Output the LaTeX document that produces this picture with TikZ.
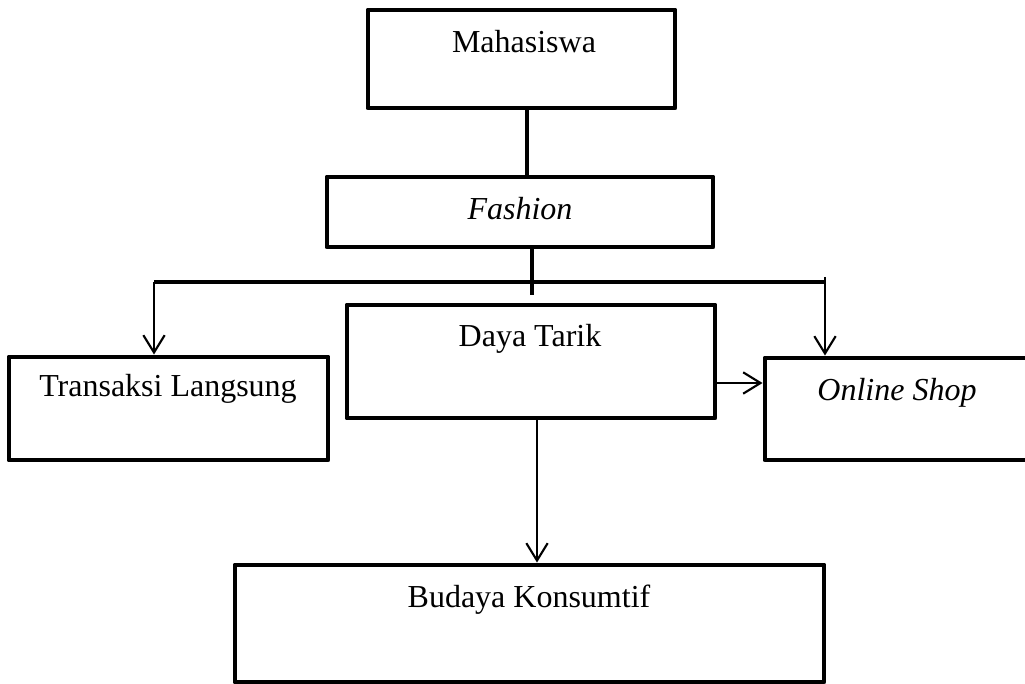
\documentclass[tikz,border=0pt]{standalone}
\usepackage{fontspec}
\setmainfont{Liberation Serif}
\usetikzlibrary{arrows.meta,fit,calc}

\tikzset{every picture/.style={line width=0.75pt}}
\tikzset{
  box/.style={draw, line width=3.7pt, inner sep=0pt, line join=round},
  lbl/.style={anchor=base, inner sep=0.75pt, font=\fontsize{24}{28}\selectfont},
  trunk/.style={line width=3.7pt},
  drop/.style={line width=1.6pt, -{Straight Barb[length=13pt,width=16pt,line width=1.6pt]}},
}

\begin{document}
\begin{tikzpicture}[x=0.75pt,y=0.75pt,yscale=-1,xscale=1]
\useasboundingbox (0,0) rectangle (1025,684);

%Boxes
\node[box, fit={(368,10) (675,108)}] (mhs) {};
\node[box, fit={(327,177) (713,247)}] (fashion) {};
\node[box, fit={(347,305) (715,418)}] (daya) {};
\node[box, fit={(9,357) (328,460)}] (transaksi) {};
\node[box, fit={(765,358) (1035,460)}] (online) {};
\node[box, fit={(235,565) (824,682)}] (budaya) {};

%Helper coordinates for the connectors
\coordinate (x-mhs) at (527,0);
\coordinate (x-fashion) at (532,295);
\coordinate (bar-l) at (154,282);
\coordinate (bar-r) at (825,282);
\coordinate (tick-r) at (825,277);
\coordinate (y-online) at (0,383);
\coordinate (x-budaya) at (537,0);

%Straight Lines
\draw[trunk] (mhs.south -| x-mhs) -- (fashion.north -| x-mhs);
\draw[trunk] (fashion.south -| x-fashion) -- (x-fashion);
\draw[trunk] (bar-l) -- (bar-r);
\draw[drop] (bar-l) -- (transaksi.north -| bar-l);
\draw[drop] (tick-r) -- (online.north -| tick-r);
\draw[drop] (daya.east |- y-online) -- (online.west |- y-online);
\draw[drop] (daya.south -| x-budaya) -- (budaya.north -| x-budaya);

% Text Node
\node[lbl] (mhs-txt) at (524,53) {Mahasiswa};
% Text Node
\node[lbl] (fashion-txt) at (520,220) {\textit{Fashion}};
% Text Node
\node[lbl] (daya-txt) at (530,347) {Daya Tarik};
% Text Node
\node[lbl] (transaksi-txt) at (168,397) {Transaksi Langsung};
% Text Node
\node[lbl] (online-txt) at (897,400) {\textit{Online Shop}};
% Text Node
\node[lbl] (budaya-txt) at (529,607) {Budaya Konsumtif};

\end{tikzpicture}
\end{document}
